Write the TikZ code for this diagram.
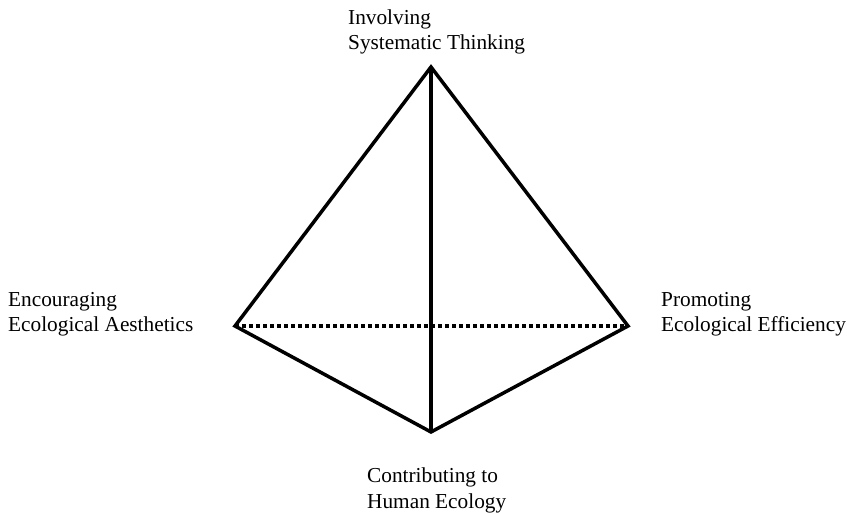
\documentclass[tikz,border=0pt]{standalone}
\usepackage{fontspec}
\setmainfont{Liberation Serif}
\begin{document}
\begin{tikzpicture}[x=1pt,y=-1pt,
  edge/.style={line width=3.5pt,line join=miter},
  hidden/.style={line width=3.5pt,dash pattern=on 4pt off 3pt},
  lbl/.style={align=left,inner sep=0pt,font=\fontsize{21.3}{25.5}\selectfont}]
\useasboundingbox (0,0) rectangle (847,513);
% vertices of the tetrahedron
\coordinate (top) at (431,67);
\coordinate (left) at (235,326);
\coordinate (right) at (628,326);
\coordinate (bottom) at (431,432);
% hidden back edge
\draw[hidden] (left) -- (right);
% visible edges
\draw[edge] (top) -- (left) -- (bottom) -- (right) -- cycle;
\draw[edge] (top) -- (bottom);
% labels (anchored at the baseline of their last line)
\node[lbl,anchor=base west] (ltop) at (348,50) {Involving\\Systematic Thinking};
\node[lbl,anchor=base west] (lleft) at (8,332) {Encouraging\\Ecological Aesthetics};
\node[lbl,anchor=base west] (lright) at (661,332) {Promoting\\Ecological Efficiency};
\node[lbl,anchor=base west] (lbottom) at (367,508) {Contributing to\\Human Ecology};
\end{tikzpicture}
\end{document}
